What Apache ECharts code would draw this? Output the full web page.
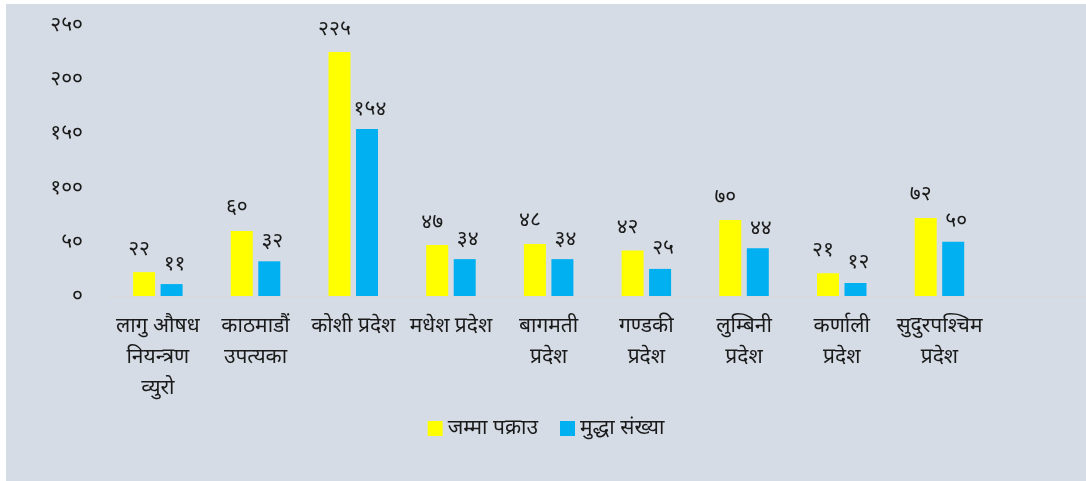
<!DOCTYPE html>
<html>
<head>
<meta charset="utf-8">
<script src="https://cdn.jsdelivr.net/npm/echarts@6/dist/echarts.min.js"></script>
<style>
  html, body { margin: 0; padding: 0; background: #ffffff; }
  #chart { position: absolute; left: 6px; top: 4px; width: 1080px; height: 477px; background: #d6dce5; }
</style>
</head>
<body>
<div id="chart"></div>
<script>
// श्रेणी (अन्तिम खाली स्थान मूल चित्रमा जस्तै)
const categories = [
  'लागु औषध\nनियन्त्रण\nव्युरो',
  'काठमाडौं\nउपत्यका',
  'कोशी प्रदेश',
  'मधेश प्रदेश',
  'बागमती\nप्रदेश',
  'गण्डकी\nप्रदेश',
  'लुम्बिनी\nप्रदेश',
  'कर्णाली\nप्रदेश',
  'सुदुरपश्चिम\nप्रदेश',
  ''
];
const seriesNames = ['जम्मा पक्राउ', 'मुद्धा संख्या'];
const arrests = [22, 60, 225, 47, 48, 42, 70, 21, 72, null];
const cases = [11, 32, 154, 34, 34, 25, 44, 12, 50, null];
const yTicks = { min: 0, max: 250, interval: 50 };

const nepDigits = '०१२३४५६७८९';
const toNep = (v) => String(v).replace(/[0-9]/g, (d) => nepDigits[+d]);

const FONT = '"Noto Sans", "DejaVu Sans", sans-serif';

const chart = echarts.init(document.getElementById('chart'));

chart.setOption({
  backgroundColor: '#d6dce5',
  textStyle: { fontFamily: FONT },
  grid: { left: 103, right: 0, top: 21, bottom: 185, containLabel: false },
  legend: {
    data: seriesNames,
    bottom: 37,
    left: 'center',
    itemWidth: 15,
    itemHeight: 15,
    itemGap: 22,
    icon: 'rect',
    textStyle: { fontSize: 21, color: '#1a1a1a', fontFamily: FONT }
  },
  xAxis: {
    type: 'category',
    data: categories,
    axisLine: { lineStyle: { color: '#d9d9d9', width: 1 } },
    axisTick: { show: false },
    axisLabel: {
      interval: 0,
      color: '#1a1a1a',
      fontSize: 21,
      lineHeight: 31,
      margin: 15,
      fontFamily: FONT
    }
  },
  yAxis: {
    type: 'value',
    min: yTicks.min,
    max: yTicks.max,
    interval: yTicks.interval,
    splitLine: { show: false },
    axisLine: { show: false },
    axisTick: { show: false },
    axisLabel: {
      color: '#1a1a1a',
      fontSize: 21,
      margin: 26,
      padding: [0, 0, 15, 0],
      fontFamily: FONT,
      formatter: (v) => toNep(v)
    }
  },
  series: [
    {
      name: seriesNames[0],
      type: 'bar',
      data: arrests,
      barWidth: 22,
      barGap: '25%',
      itemStyle: { color: '#ffff00' },
      label: {
        show: true,
        position: 'top',
        distance: 13,
        offset: [-5, 0],
        color: '#1a1a1a',
        fontSize: 21,
        fontFamily: FONT,
        formatter: (p) => toNep(p.value)
      }
    },
    {
      name: seriesNames[1],
      type: 'bar',
      data: cases,
      barWidth: 22,
      itemStyle: { color: '#00b0f0' },
      label: {
        show: true,
        position: 'top',
        distance: 10,
        offset: [3, 0],
        color: '#1a1a1a',
        fontSize: 21,
        fontFamily: FONT,
        formatter: (p) => toNep(p.value)
      }
    }
  ]
});
</script>
</body>
</html>
